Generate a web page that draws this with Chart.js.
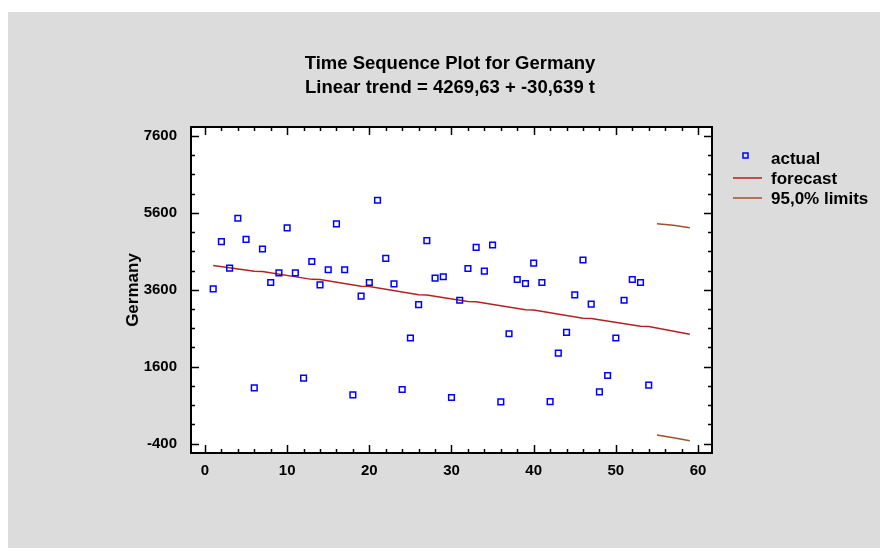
<!DOCTYPE html>
<html>
<head>
<meta charset="utf-8">
<title>Time Sequence Plot for Germany</title>
<script src="https://cdn.jsdelivr.net/npm/chart.js@4.4.1/dist/chart.umd.min.js"></script>
<style>
  html, body { margin: 0; padding: 0; background: #ffffff; }
  #wrap { position: relative; width: 880px; height: 556px; }
</style>
</head>
<body>
<div id="wrap"><canvas id="chart" width="880" height="556"></canvas></div>
<script>
// chart text
const titleLines = ['Time Sequence Plot for Germany', 'Linear trend = 4269,63 + -30,639 t'];
const yAxisTitle = 'Germany';

// actual observations, t = 1..54
const actualValues = [
  3623, 4851, 4164, 5459, 4911, 1047, 4660, 3788, 4041, 5208,
  4041, 1300, 4336, 3728, 4120, 5313, 4120, 864, 3433, 3788,
  5929, 4415, 3754, 1004, 2344, 3214, 4877, 3903, 3937, 796,
  3328, 4154, 4702, 4086, 4764, 681, 2456, 3866, 3762, 4294,
  3788, 691, 1952, 2493, 3467, 4373, 3224, 942, 1370, 2344,
  3328, 3866, 3788, 1117
];

// forecast line (at its bends)
const forecastPeriods = [1, 6, 7, 13, 14, 19, 20, 26, 27, 32, 33, 39, 40, 46, 47, 53, 54, 59];
const forecastValues = [4230, 4080, 4075, 3870, 3865, 3690, 3685, 3470, 3465, 3295, 3290, 3080, 3075, 2860, 2855, 2650, 2645, 2440];

// 95% limits for the forecast periods
const limitPeriods = [55, 57, 59];
const upperLimits = [5320, 5280, 5215];
const lowerLimits = [-180, -250, -330];

// axis ticks
const xTickLabels = [0, 10, 20, 30, 40, 50, 60];
const yTickLabels = [-400, 1600, 3600, 5600, 7600];
const xMinorStep = 2;
const yMinorStep = 500;

const FAMILY = '"Liberation Sans", Arial, sans-serif';

const actualPoints = actualValues.map((v, i) => ({ x: i + 1, y: v }));
const forecastPoints = forecastPeriods.map((t, i) => ({ x: t, y: forecastValues[i] }));
const upperPoints = limitPeriods.map((t, i) => ({ x: t, y: upperLimits[i] }));
const lowerPoints = limitPeriods.map((t, i) => ({ x: t, y: lowerLimits[i] }));

// grey page, white plot box
const backgroundPlugin = {
  id: 'backdrop',
  beforeDraw(chart) {
    const { ctx, chartArea: a } = chart;
    ctx.save();
    ctx.fillStyle = '#ffffff';
    ctx.fillRect(0, 0, chart.width, chart.height);
    ctx.fillStyle = '#dcdcdc';
    ctx.fillRect(8, 12, chart.width - 8, chart.height - 20);
    ctx.fillStyle = '#ffffff';
    ctx.fillRect(a.left, a.top, a.right - a.left, a.bottom - a.top);
    ctx.restore();
  }
};

// frame with inward ticks on all four sides, title and legend
const framePlugin = {
  id: 'frame',
  afterDraw(chart) {
    const { ctx, chartArea: a, scales: { x, y } } = chart;
    ctx.save();
    ctx.strokeStyle = '#000';
    ctx.lineWidth = 1.5;
    ctx.beginPath();
    for (let t = xTickLabels[0]; t <= xTickLabels[xTickLabels.length - 1]; t += xMinorStep) {
      const px = Math.round(x.getPixelForValue(t)) + 0.5;
      const len = xTickLabels.includes(t) ? 8 : 4;
      ctx.moveTo(px, a.bottom); ctx.lineTo(px, a.bottom - len);
      ctx.moveTo(px, a.top); ctx.lineTo(px, a.top + len);
    }
    for (let v = yTickLabels[0]; v <= yTickLabels[yTickLabels.length - 1]; v += yMinorStep) {
      const py = Math.round(y.getPixelForValue(v)) + 0.5;
      const len = yTickLabels.includes(v) ? 8 : 4;
      ctx.moveTo(a.left, py); ctx.lineTo(a.left + len, py);
      ctx.moveTo(a.right, py); ctx.lineTo(a.right - len, py);
    }
    ctx.stroke();
    ctx.lineWidth = 2;
    ctx.strokeRect(a.left, a.top, a.right - a.left, a.bottom - a.top);

    // title
    ctx.fillStyle = '#000';
    ctx.font = 'bold 18.5px ' + FAMILY;
    ctx.textAlign = 'center';
    ctx.textBaseline = 'middle';
    ctx.fillText(titleLines[0], 450, 64);
    ctx.fillText(titleLines[1], 450, 88);

    // legend
    ctx.textAlign = 'left';
    ctx.font = 'bold 17px ' + FAMILY;
    const rows = [158, 178, 198];
    const legendSets = chart.data.datasets.filter(d => d.label);
    legendSets.forEach((d, i) => {
      const yy = rows[i];
      ctx.strokeStyle = d.borderColor;
      ctx.lineWidth = 1.5;
      if (d.showLine === false) {
        ctx.strokeRect(743, yy - 5, 5, 5);
      } else {
        ctx.beginPath(); ctx.moveTo(733, yy); ctx.lineTo(762, yy); ctx.stroke();
      }
      ctx.fillStyle = '#000';
      ctx.fillText(d.label, 771, yy + 1);
    });
    ctx.restore();
  }
};

new Chart(document.getElementById('chart'), {
  type: 'scatter',
  data: {
    datasets: [
      {
        label: 'actual',
        data: actualPoints,
        showLine: false,
        borderColor: '#0000ff',
        backgroundColor: 'rgba(0,0,0,0)',
        pointStyle: 'rect',
        pointRadius: 4,
        pointBorderWidth: 1.5
      },
      {
        label: 'forecast',
        data: forecastPoints,
        showLine: true,
        borderColor: '#b22222',
        borderWidth: 1.5,
        pointRadius: 0
      },
      {
        label: '95,0% limits',
        data: upperPoints,
        showLine: true,
        borderColor: '#a0522d',
        borderWidth: 1.5,
        pointRadius: 0
      },
      {
        data: lowerPoints,
        showLine: true,
        borderColor: '#a0522d',
        borderWidth: 1.5,
        pointRadius: 0
      }
    ]
  },
  options: {
    responsive: false,
    animation: false,
    layout: { padding: { left: 120, top: 127, right: 168, bottom: 0 } },
    plugins: {
      legend: { display: false },
      title: { display: false },
      tooltip: { enabled: false }
    },
    scales: {
      x: {
        type: 'linear',
        min: -1.7,
        max: 61.7,
        grid: { display: false, drawTicks: false },
        border: { display: false },
        ticks: {
          color: '#000',
          font: { family: FAMILY, size: 15, weight: 'bold' },
          padding: 9,
          maxRotation: 0,
          callback: v => String(v)
        },
        afterBuildTicks: s => { s.ticks = xTickLabels.map(v => ({ value: v })); },
        afterFit: s => { s.height = 103; }
      },
      y: {
        type: 'linear',
        min: -647,
        max: 7834,
        grid: { display: false, drawTicks: false },
        border: { display: false },
        ticks: {
          color: '#000',
          font: { family: FAMILY, size: 15, weight: 'bold' },
          padding: 14,
          callback: v => String(v)
        },
        afterBuildTicks: s => { s.ticks = yTickLabels.map(v => ({ value: v })); },
        afterFit: s => { s.width = 71; },
        title: {
          display: true,
          text: yAxisTitle,
          color: '#000',
          font: { family: FAMILY, size: 17, weight: 'bold' },
          padding: { top: 3, bottom: 0 }
        }
      }
    }
  },
  plugins: [backgroundPlugin, framePlugin]
});
</script>
</body>
</html>
